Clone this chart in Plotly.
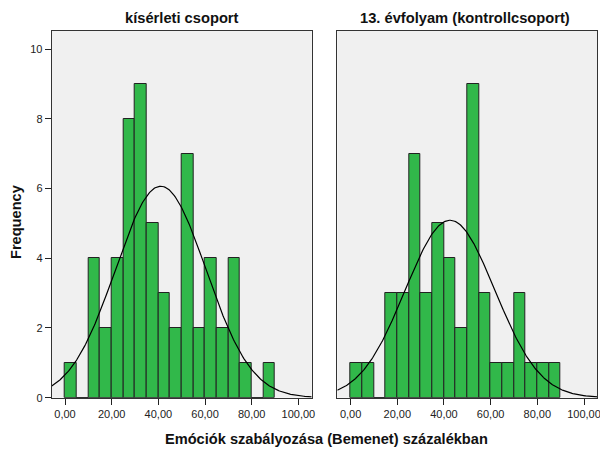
import numpy as np
import plotly.graph_objects as go

# the page body has an 8px margin, so the figure is drawn 8px in from the window corner
W, H = 600, 445
OFF = 8

# bins of width 5, lower edges 0..85
bin_left = [0, 5, 10, 15, 20, 25, 30, 35, 40, 45, 50, 55, 60, 65, 70, 75, 80, 85]
counts_kiserleti = [1, 0, 4, 2, 4, 8, 9, 5, 3, 2, 7, 2, 4, 2, 4, 1, 0, 1]
counts_kontroll = [1, 1, 0, 3, 3, 7, 3, 5, 4, 2, 9, 3, 1, 1, 3, 1, 1, 1]

# normal curve parameters
mean_kiserleti, sd_kiserleti = 41.0, 19.4
mean_kontroll, sd_kontroll = 42.6, 19.2

xtick_vals = [0, 20, 40, 60, 80, 100]
xtick_text = ["0,00", "20,00", "40,00", "60,00", "80,00", "100,00"]
ytick_vals = [0, 2, 4, 6, 8, 10]

BIN_W = 5
X_RANGE = [-5.7, 105.7]
Y_RANGE = [0, 10.52]
GREEN = "#31B84A"
FONT = "Liberation Sans, Arial, sans-serif"


def px(x):
    return (x - OFF) / W


def py(y):
    return 1 - (y - OFF) / H


def normal_curve(counts, mean, sd):
    n = sum(counts)
    xs = np.linspace(X_RANGE[0], X_RANGE[1], 300)
    ys = n * BIN_W * np.exp(-0.5 * ((xs - mean) / sd) ** 2) / (sd * np.sqrt(2 * np.pi))
    return xs, ys


fig = go.Figure()

panels = [
    (counts_kiserleti, mean_kiserleti, sd_kiserleti, "x", "y"),
    (counts_kontroll, mean_kontroll, sd_kontroll, "x2", "y2"),
]
for counts, mean, sd, xa, ya in panels:
    centers = [b + BIN_W / 2 for b in bin_left]
    fig.add_trace(
        go.Bar(
            x=centers,
            y=counts,
            width=BIN_W,
            marker=dict(color=GREEN, line=dict(color="#222222", width=1)),
            xaxis=xa,
            yaxis=ya,
            showlegend=False,
        )
    )
    cx, cy = normal_curve(counts, mean, sd)
    fig.add_trace(
        go.Scatter(
            x=cx,
            y=cy,
            mode="lines",
            line=dict(color="black", width=1.2),
            xaxis=xa,
            yaxis=ya,
            showlegend=False,
        )
    )

y_dom = [py(397.7), py(31)]
xaxis_common = dict(
    range=X_RANGE,
    tickvals=xtick_vals,
    ticktext=xtick_text,
    ticks="outside",
    ticklen=6,
    tickcolor="#222222",
    showline=True,
    linecolor="#333333",
    linewidth=1,
    mirror=True,
    showgrid=False,
    zeroline=False,
    automargin=False,
    tickfont=dict(family=FONT, size=11, color="#222222"),
)
yaxis_common = dict(
    range=Y_RANGE,
    domain=y_dom,
    showline=True,
    linecolor="#333333",
    linewidth=1,
    mirror=True,
    showgrid=False,
    zeroline=False,
    automargin=False,
)

fig.update_layout(
    width=W,
    height=H,
    margin=dict(l=0, r=0, t=0, b=0),
    paper_bgcolor="white",
    plot_bgcolor="#F0F0F0",
    bargap=0,
    font=dict(family=FONT, color="#111111"),
    xaxis=dict(domain=[px(51.7), px(311.7)], anchor="y", **xaxis_common),
    xaxis2=dict(domain=[px(337.3), px(597.3)], anchor="y2", **xaxis_common),
    yaxis=dict(
        anchor="x",
        tickvals=ytick_vals,
        ticks="outside",
        ticklen=6,
        tickcolor="#222222",
        tickfont=dict(family=FONT, size=11, color="#222222"),
        **yaxis_common,
    ),
    yaxis2=dict(anchor="x2", showticklabels=False, ticks="", **yaxis_common),
)

annotations = [
    dict(text="<b>kísérleti csoport</b>", x=px(181.7), y=py(18), size=14.7),
    dict(text="<b>13. évfolyam (kontrollcsoport)</b>", x=px(465), y=py(18), size=14.7),
    dict(text="<b>Emóciók szabályozása (Bemenet) százalékban</b>", x=px(326), y=py(439), size=14.6),
]
for a in annotations:
    fig.add_annotation(
        text=a["text"],
        x=a["x"],
        y=a["y"],
        xref="paper",
        yref="paper",
        xanchor="center",
        yanchor="middle",
        showarrow=False,
        font=dict(family=FONT, size=a["size"], color="#111111"),
    )
fig.add_annotation(
    text="<b>Frequency</b>",
    x=px(16),
    y=py(222),
    xref="paper",
    yref="paper",
    xanchor="center",
    yanchor="middle",
    textangle=-90,
    showarrow=False,
    font=dict(family=FONT, size=14.6, color="#111111"),
)

fig.write_html("out.html")
